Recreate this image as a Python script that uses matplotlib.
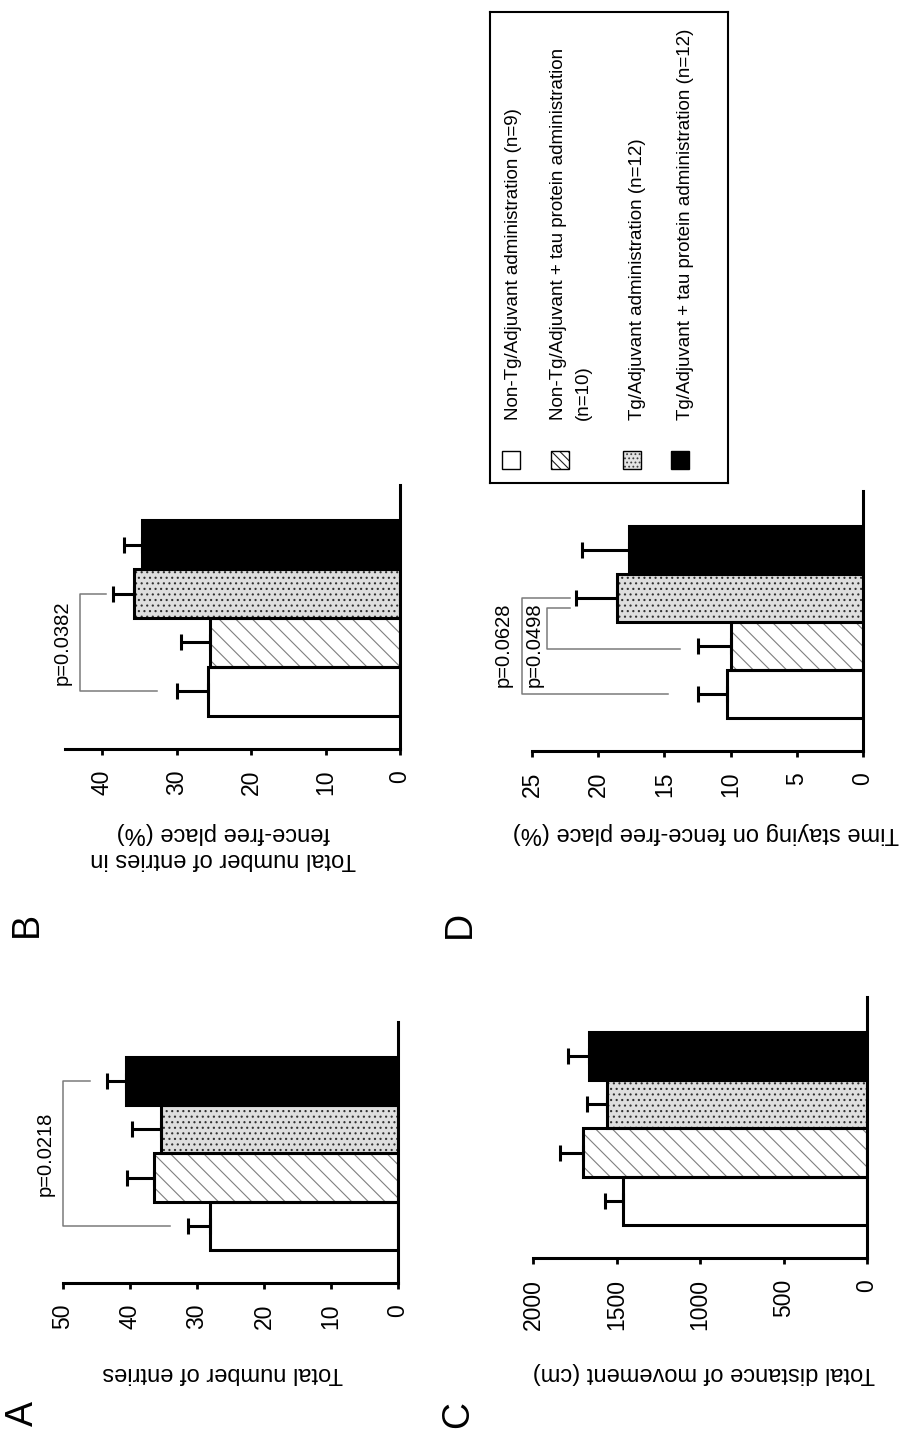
import matplotlib
matplotlib.use("Agg")
import matplotlib.pyplot as plt
from matplotlib.patches import Rectangle

plt.rcParams['font.family'] = ['Liberation Sans', 'DejaVu Sans']
plt.rcParams['hatch.linewidth'] = 0.8

W, H = 905, 1439

groups = ["Non-Tg/Adjuvant administration (n=9)",
          "Non-Tg/Adjuvant + tau protein administration\n(n=10)",
          "Tg/Adjuvant administration (n=12)",
          "Tg/Adjuvant + tau protein administration (n=12)"]

# A: total number of entries
entries_mean = [28.1, 36.4, 35.4, 40.6]
entries_sem = [3.2, 4.0, 4.3, 2.8]
entries_ticks = [0, 10, 20, 30, 40, 50]
p_entries = "p=0.0218"

# B: entries in fence-free place (%)
fence_entries_mean = [25.8, 25.5, 35.7, 34.7]
fence_entries_sem = [4.1, 3.9, 2.9, 2.4]
fence_entries_ticks = [0, 10, 20, 30, 40]
p_fence_entries = "p=0.0382"

# C: total distance of movement (cm)
distance_mean = [1461, 1701, 1557, 1665]
distance_sem = [108, 137, 120, 125]
distance_ticks = [0, 500, 1000, 1500, 2000]

# D: time on fence-free place (%)
fence_time_mean = [10.3, 10.0, 18.6, 17.7]
fence_time_sem = [2.2, 2.5, 3.1, 3.5]
fence_time_ticks = [0, 5, 10, 15, 20, 25]
p_fence_time = ["p=0.0628", "p=0.0498"]

# face, hatch, hatch colour for each group
bar_styles = [("white", None, "white"),
              ("white", "\\\\", "#7f7f7f"),
              ("#dedede", "...", "#303030"),
              ("black", None, "black")]
# legend swatches are small, so the hatching is packed tighter there
swatch_styles = [("white", None, "white"),
                 ("white", "\\\\\\\\", "#202020"),
                 ("#e4e4e4", "....", "#404040"),
                 ("black", None, "black")]

bracket_grey = "#7a7a7a"

fig = plt.figure(figsize=(W / 100, H / 100), dpi=100)


def px_box(left, top, right, bottom):
    return [left / W, 1 - bottom / H, (right - left) / W, (bottom - top) / H]


def bar_panel(box, means, sems, vmax, ticks):
    ax = fig.add_axes(px_box(*box))
    ax.set_facecolor("none")
    pos = list(range(len(means)))
    for i, m in enumerate(means):
        face, hatch, hcol = bar_styles[i]
        ax.barh(i, m, height=1, color=face, edgecolor=hcol, linewidth=0, hatch=hatch)
    ax.barh(pos, means, height=1, fill=False, edgecolor="black", linewidth=2.2)
    ax.errorbar(means, pos, xerr=[[0] * len(sems), sems], fmt="none", ecolor="black",
                elinewidth=2.2, capsize=6, capthick=2.2)
    ax.set_xlim(vmax, 0)
    ax.set_ylim(-1.18, 4.22)
    ax.set_yticks([])
    ax.set_xticks(ticks)
    ax.set_xticklabels([str(t) for t in ticks], rotation=90, fontsize=16.5)
    ax.tick_params(axis="x", direction="out", length=4, width=2, pad=11)
    ax.spines["left"].set_visible(False)
    ax.spines["top"].set_visible(False)
    ax.spines["right"].set_linewidth(2.2)
    ax.spines["bottom"].set_linewidth(2.2)
    return ax


def bracket(ax, x_bar, y_top, x_top, y_bot, x_bot):
    ax.plot([x_top, x_bar, x_bar, x_bot], [y_top, y_top, y_bot, y_bot],
            color=bracket_grey, lw=1.1, clip_on=False)


def fig_text(x, y, s, **kw):
    fig.text(x / W, 1 - y / H, s, ha="center", va="center", **kw)


# panel A
ax_a = bar_panel((63, 1022, 398, 1283), entries_mean, entries_sem, 50, entries_ticks)
bracket(ax_a, 50.0, 3, 46.0, 0, 34.0)
ax_a.text(52.7, 1.5, p_entries, rotation=90, ha="center", va="center", fontsize=14.5)

# panel B
ax_b = bar_panel((65, 485, 400, 749), fence_entries_mean, fence_entries_sem, 45, fence_entries_ticks)
bracket(ax_b, 43.0, 2, 39.5, 0, 32.6)
ax_b.text(45.4, 1.0, p_fence_entries, rotation=90, ha="center", va="center", fontsize=14.5)

# panel C
ax_c = bar_panel((533, 997, 867, 1258), distance_mean, distance_sem, 2000, distance_ticks)

# panel D
ax_d = bar_panel((532, 491, 863, 751), fence_time_mean, fence_time_sem, 25, fence_time_ticks)
bracket(ax_d, 25.75, 2, 22.1, 0, 14.7)
bracket(ax_d, 23.9, 1.78, 22.1, 0.93, 13.8)
ax_d.text(27.2, 1.03, p_fence_time[0], rotation=90, ha="center", va="center", fontsize=14.5)
ax_d.text(24.8, 1.03, p_fence_time[1], rotation=90, ha="center", va="center", fontsize=14.5)

# axis titles (upside down, as on the rotated page)
fig_text(223, 1373, "Total number of entries", rotation=180, fontsize=17)
fig_text(223, 846, "Total number of entries in\nfence-free place (%)", rotation=180, fontsize=17)
fig_text(704, 1373, "Total distance of movement (cm)", rotation=180, fontsize=17)
fig_text(706, 833, "Time staying on fence-free place (%)", rotation=180, fontsize=17)

# panel letters
fig_text(23, 1413, "A", rotation=90, fontsize=27)
fig_text(27, 924, "B", rotation=90, fontsize=27)
fig_text(458, 1415, "C", rotation=90, fontsize=27)
fig_text(460, 924, "D", rotation=90, fontsize=27)

# legend box
lax = fig.add_axes(px_box(490, 12, 728, 483))
lax.set_xlim(490, 728)
lax.set_ylim(483, 12)
lax.set_xticks([])
lax.set_yticks([])
for s in lax.spines.values():
    s.set_linewidth(1.5)

swatch_x = [511, 560, 632, 680]
text_x = [513, 571, 638, 686]
for i, label in enumerate(groups):
    face, hatch, hcol = swatch_styles[i]
    lax.add_patch(Rectangle((swatch_x[i] - 9, 451), 18, 18, facecolor=face,
                            edgecolor=hcol, linewidth=0, hatch=hatch))
    lax.add_patch(Rectangle((swatch_x[i] - 9, 451), 18, 18, fill=False,
                            edgecolor="black", linewidth=1.0))
    lax.text(text_x[i], 420, label, rotation=90, ha="center", va="bottom",
             fontsize=13.5, linespacing=1.6, multialignment="left")

fig.savefig("out.png", dpi=100)
